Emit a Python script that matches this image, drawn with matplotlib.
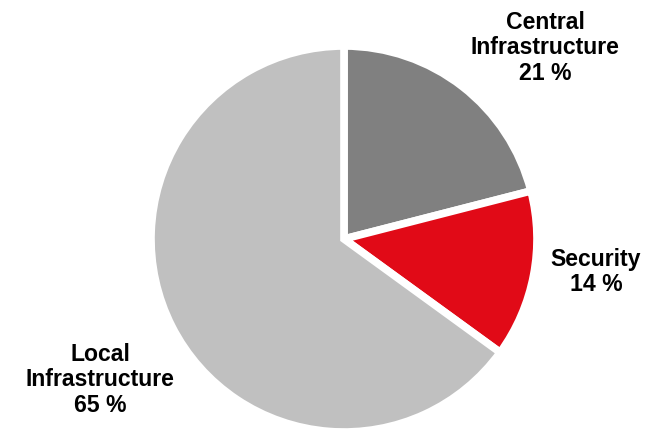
import matplotlib.pyplot as plt

labels = ['Central\nInfrastructure\n21 %', 'Security\n14 %', 'Local\nInfrastructure\n65 %']
shares = [21, 14, 65]
colors = ['#808080', '#E10A17', '#C0C0C0']
label_pos = [(545, 381), (596, 157), (100, 49)]

plt.rcParams['font.family'] = ['Liberation Sans', 'DejaVu Sans']

fig = plt.figure(figsize=(6.54, 4.29), dpi=100)
ax = fig.add_axes([0, 0, 1, 1])

ax.pie(shares, colors=colors, startangle=90, counterclock=False,
       center=(344, 190), radius=193, frame=True,
       wedgeprops=dict(edgecolor='white', linewidth=5.5, joinstyle='miter'))
ax.set_xlim(0, 654)
ax.set_ylim(0, 429)
ax.set_aspect('equal')
ax.axis('off')

for text, (x, y) in zip(labels, label_pos):
    ax.text(x, y, text, ha='center', va='center', fontsize=16.6,
            fontweight='bold', linespacing=1.15)

fig.savefig('out.png', dpi=100)
